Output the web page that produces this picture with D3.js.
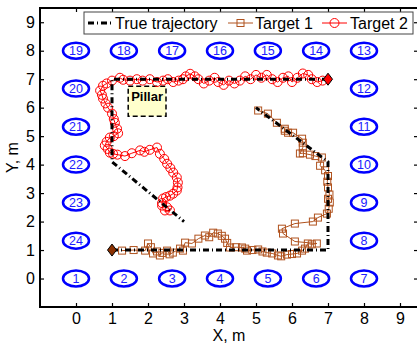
<!DOCTYPE html>
<html>
<head>
<meta charset="utf-8">
<script src="https://cdn.jsdelivr.net/npm/d3@7"></script>
<style>
  html, body { margin: 0; padding: 0; background: #fff; }
  svg { display: block; font-family: "Liberation Sans", Arial, Helvetica, sans-serif; }
</style>
</head>
<body>
<div id="chart"></div>
<script>
// anchors: [id, x, y]
const anchors = [
  [1, 0, 0], [2, 1.33, 0], [3, 2.67, 0], [4, 4, 0], [5, 5.33, 0], [6, 6.67, 0], [7, 8, 0],
  [8, 8, 1.33], [9, 8, 2.67], [10, 8, 4], [11, 8, 5.33], [12, 8, 6.67],
  [13, 8, 8], [14, 6.67, 8], [15, 5.33, 8], [16, 4, 8], [17, 2.67, 8], [18, 1.33, 8], [19, 0, 8],
  [20, 0, 6.67], [21, 0, 5.33], [22, 0, 4], [23, 0, 2.67], [24, 0, 1.33]
];

const pillar = { x0: 1.45, x1: 2.5, y0: 5.7, y1: 6.75 };

const truePath1 = [[1, 1], [7, 1], [7, 4.1], [5, 6]];
const truePath2 = [[7, 7], [1, 7], [1, 4.1], [3, 2]];

const start1 = [1, 1];
const start2 = [7, 7];

const target1 = [
  [1.28,0.98],[1.6,1.0],[1.92,0.98],[2.0,1.23],[2.08,1.1],[2.14,0.88],[2.25,0.95],[2.33,0.81],
  [2.4,0.9],[2.53,0.98],[2.6,0.85],[2.69,0.91],[2.89,1.05],[2.97,0.98],[3.03,1.26],[3.22,1.23],
  [3.4,1.4],[3.58,1.51],[3.7,1.45],[3.81,1.61],[3.94,1.58],[4.05,1.5],[4.14,1.4],[4.2,1.25],
  [4.28,1.09],[4.45,1.1],[4.61,1.09],[4.7,1.05],[4.75,0.98],[4.9,1.0],[5.06,1.02],[5.18,0.95],
  [5.3,0.91],[5.45,0.88],[5.61,0.81],[5.7,0.78],[5.86,0.84],[6.0,0.86],[6.14,0.88],[6.28,0.98],
  [6.36,1.05],[6.44,1.23],[6.55,1.2],[6.69,1.23],[6.08,1.3],[5.75,1.58],[5.72,1.75],[6.08,1.93],
  [6.58,2.0],[6.72,2.14],[6.97,2.28],[7.02,2.45],[7.05,2.67],[7.0,2.8],[7.04,2.95],[7.0,3.2],
  [6.98,3.4],[7.0,3.6],[6.92,3.8],[6.78,3.96],[6.83,4.25],[6.65,4.3],[6.5,4.35],[6.3,4.4],
  [6.22,4.39],[6.3,4.6],[6.3,4.77],[6.28,4.91],[6.03,5.12],[5.89,5.12],[5.8,5.19],[5.8,5.26],
  [5.58,5.47],[5.33,5.79],[5.06,5.9]
];

const target2 = [
  [6.85,6.95],[6.7,6.9],[6.55,7.0],[6.45,7.15],[6.3,7.2],[6.15,7.05],[6.0,6.9],[5.9,7.1],
  [5.75,7.05],[5.6,6.9],[5.45,7.0],[5.3,7.15],[5.15,7.05],[5.0,7.15],[4.85,7.0],[4.7,7.1],
  [4.55,6.95],[4.4,6.85],[4.25,6.95],[4.1,6.8],[3.95,6.9],[3.85,7.05],[3.7,6.95],[3.55,6.85],
  [3.4,7.0],[3.3,7.1],[3.17,7.19],[3.05,7.1],[2.97,7.0],[2.85,6.95],[2.7,6.9],[2.55,7.0],
  [2.42,6.95],[2.25,6.9],[2.05,7.0],[1.85,6.95],[1.69,7.0],[1.5,6.95],[1.31,6.98],[1.22,7.05],
  [1.0,6.95],[0.85,6.85],[0.75,6.77],[0.67,6.6],[0.72,6.45],[0.75,6.32],[0.82,6.15],[0.89,6.0],
  [1.0,5.79],[1.05,5.6],[1.08,5.47],[1.14,5.26],[1.17,5.1],[1.05,5.0],[0.94,4.95],[0.85,4.8],
  [0.8,4.67],[0.88,4.55],[0.94,4.42],[1.03,4.38],[1.15,4.35],[1.36,4.3],[1.55,4.4],[1.78,4.5],
  [1.9,4.45],[2.05,4.52],[2.25,4.6],[2.33,4.38],[2.45,4.2],[2.53,4.03],[2.62,3.88],[2.7,3.72],
  [2.8,3.55],[2.83,3.37],[2.82,3.2],[2.8,3.09],[2.7,2.98],[2.61,2.91],[2.5,2.86],[2.42,2.81],
  [2.39,2.65],[2.39,2.56],[2.53,2.5],[2.61,2.39],[2.47,2.39]
];

const xTicks = [0, 1, 2, 3, 4, 5, 6, 7, 8, 9];
const yTicks = [0, 1, 2, 3, 4, 5, 6, 7, 8, 9];

const W = 417, H = 343;
const margin = { left: 40, top: 8, right: -1, bottom: 36 };
const x = d3.scaleLinear().domain([-1, 9.5]).range([margin.left, W - margin.right]);
const y = d3.scaleLinear().domain([-1, 9.5]).range([H - margin.bottom, margin.top]);

const c1 = "#b0521e", c2 = "#ff0000", blue = "#0000ff";

const svg = d3.select("#chart").append("svg")
  .attr("width", W).attr("height", H);

// anchors
const anc = svg.append("g");
anc.selectAll("ellipse").data(anchors).join("ellipse")
  .attr("cx", d => x(d[1])).attr("cy", d => y(d[2]))
  .attr("rx", 13).attr("ry", 8)
  .attr("fill", "none").attr("stroke", blue).attr("stroke-width", 2.5);
anc.selectAll("text").data(anchors).join("text")
  .attr("x", d => x(d[1])).attr("y", d => y(d[2]) + 4.5)
  .attr("text-anchor", "middle").attr("font-size", 12.5)
  .attr("fill", "#2020ff").text(d => d[0]);

// pillar
svg.append("rect")
  .attr("x", x(pillar.x0)).attr("y", y(pillar.y1))
  .attr("width", x(pillar.x1) - x(pillar.x0)).attr("height", y(pillar.y0) - y(pillar.y1))
  .attr("fill", "#ffffcc").attr("stroke", "#000").attr("stroke-width", 1.5)
  .attr("stroke-dasharray", "5,3");
svg.append("text")
  .attr("x", x((pillar.x0 + pillar.x1) / 2)).attr("y", y(pillar.y1) + 15)
  .attr("text-anchor", "middle").attr("font-size", 13).attr("font-weight", "bold")
  .text("Pillar");

const line = d3.line().x(d => x(d[0])).y(d => y(d[1]));

// target 1 estimates
svg.append("path").datum(target1).attr("d", line)
  .attr("fill", "none").attr("stroke", c1).attr("stroke-width", 1);
svg.append("g").selectAll("rect").data(target1).join("rect")
  .attr("x", d => x(d[0]) - 3.5).attr("y", d => y(d[1]) - 3.5)
  .attr("width", 7).attr("height", 7)
  .attr("fill", "none").attr("stroke", c1).attr("stroke-width", 1);

// target 2 estimates
svg.append("path").datum(target2).attr("d", line)
  .attr("fill", "none").attr("stroke", c2).attr("stroke-width", 1);
svg.append("g").selectAll("circle").data(target2).join("circle")
  .attr("cx", d => x(d[0])).attr("cy", d => y(d[1])).attr("r", 4.5)
  .attr("fill", "none").attr("stroke", c2).attr("stroke-width", 1);

// true trajectories
[truePath1, truePath2].forEach(p => {
  svg.append("path").datum(p).attr("d", line)
    .attr("fill", "none").attr("stroke", "#000").attr("stroke-width", 3)
    .attr("stroke-dasharray", "6,3,1,3");
});

// start diamonds
const diamond = (cx, cy) => `M${cx},${cy - 6}L${cx + 4.5},${cy}L${cx},${cy + 6}L${cx - 4.5},${cy}Z`;
svg.append("path").attr("d", diamond(x(start1[0]), y(start1[1])))
  .attr("fill", "#8b3000").attr("stroke", "#000").attr("stroke-width", 1);
svg.append("path").attr("d", diamond(x(start2[0]), y(start2[1])))
  .attr("fill", "#ff0000").attr("stroke", "#000").attr("stroke-width", 1);

// axes box
const x0 = x.range()[0], x1 = x.range()[1], y0 = y.range()[0], y1 = y.range()[1];
const ax = svg.append("g").attr("font-size", 16);
ax.append("rect").attr("x", x0).attr("y", y1).attr("width", x1 - x0).attr("height", y0 - y1)
  .attr("fill", "none").attr("stroke", "#000").attr("stroke-width", 2);

const bottomAxis = d3.axisBottom(x).tickValues(xTicks).tickSize(-4).tickPadding(6).tickFormat(d3.format("d"));
const topAxis = d3.axisTop(x).tickValues(xTicks).tickSize(-4).tickFormat("");
const leftAxis = d3.axisLeft(y).tickValues(yTicks).tickSize(-4).tickPadding(5).tickFormat(d3.format("d"));
const rightAxis = d3.axisRight(y).tickValues(yTicks).tickSize(-4).tickFormat("");

[[bottomAxis, `translate(0,${y0})`], [topAxis, `translate(0,${y1})`],
 [leftAxis, `translate(${x0},0)`], [rightAxis, `translate(${x1},0)`]].forEach(([a, t]) => {
  const g = ax.append("g").attr("transform", t).call(a);
  g.select(".domain").remove();
  g.selectAll("line").attr("stroke", "#000").attr("stroke-width", 1.2);
  g.selectAll("text").attr("font-size", 16).attr("fill", "#000")
    .attr("font-family", "Liberation Sans, Arial, sans-serif");
});

ax.append("text").attr("x", (x0 + x1) / 2).attr("y", 341)
  .attr("text-anchor", "middle").attr("font-size", 16).text("X, m");
ax.append("text").attr("transform", `translate(18,${(y0 + y1) / 2}) rotate(-90)`)
  .attr("text-anchor", "middle").attr("font-size", 16).text("Y, m");

// legend
const lg = svg.append("g");
lg.append("rect").attr("x", 84).attr("y", 12).attr("width", 329).attr("height", 22)
  .attr("fill", "#fff").attr("stroke", "#444").attr("stroke-width", 1);
const ly = 23;
lg.append("line").attr("x1", 88).attr("x2", 112).attr("y1", ly).attr("y2", ly)
  .attr("stroke", "#000").attr("stroke-width", 3).attr("stroke-dasharray", "6,3,1,3");
lg.append("text").attr("x", 115).attr("y", ly + 6).attr("font-size", 16).text("True trajectory");
lg.append("line").attr("x1", 228).attr("x2", 253).attr("y1", ly).attr("y2", ly)
  .attr("stroke", c1).attr("stroke-width", 1);
lg.append("rect").attr("x", 237).attr("y", ly - 3.5).attr("width", 7).attr("height", 7)
  .attr("fill", "none").attr("stroke", c1);
lg.append("text").attr("x", 255).attr("y", ly + 6).attr("font-size", 16).text("Target 1");
lg.append("line").attr("x1", 322).attr("x2", 347).attr("y1", ly).attr("y2", ly)
  .attr("stroke", c2).attr("stroke-width", 1);
lg.append("circle").attr("cx", 334.5).attr("cy", ly).attr("r", 4.5)
  .attr("fill", "none").attr("stroke", c2);
lg.append("text").attr("x", 350).attr("y", ly + 6).attr("font-size", 16).text("Target 2");
</script>
</body>
</html>
